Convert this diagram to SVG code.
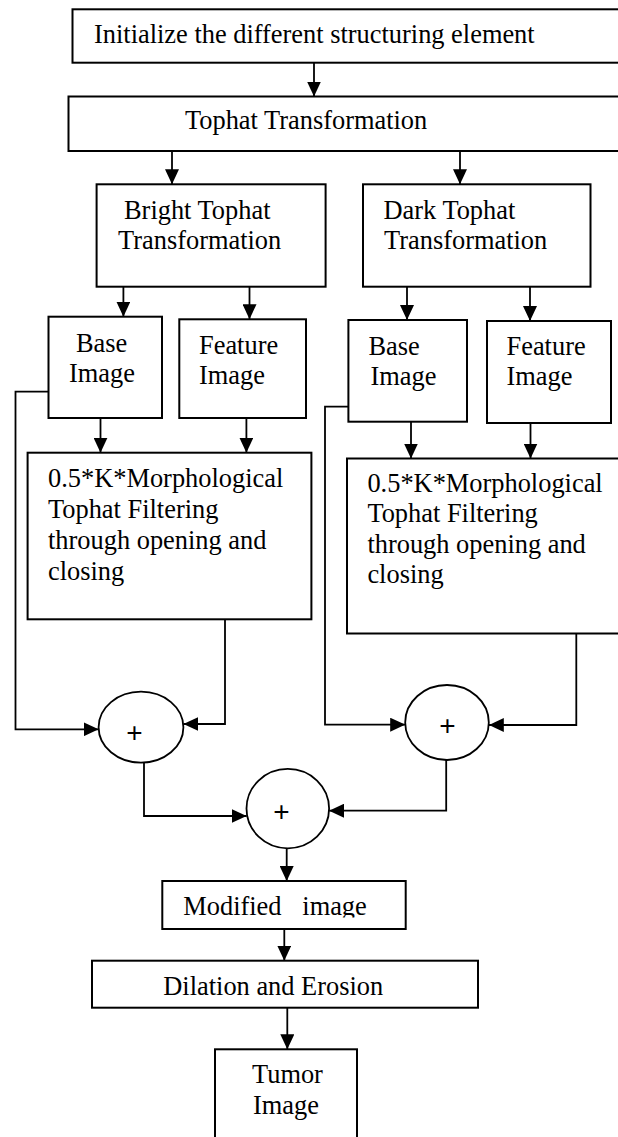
<svg xmlns="http://www.w3.org/2000/svg" width="618" height="1137" viewBox="0 0 618 1137">
  <style>
    .box { fill: #fff; stroke: #000; stroke-width: 2; }
    .sum { fill: #fff; stroke: #000; stroke-width: 1.8; }
    .lbl { font-family: "Liberation Serif", "Times New Roman", serif; font-size: 26.4px; fill: #000; }
    .plus { font-family: "Liberation Sans", Arial, sans-serif; font-size: 28px; fill: #000; text-anchor: middle; }
    .wire { fill: none; stroke: #000; stroke-width: 1.8; }
    .arrow { fill: none; stroke: #000; stroke-width: 1.8; marker-end: url(#head); }
  </style>
  <defs>
    <marker id="head" markerUnits="userSpaceOnUse" markerWidth="15" markerHeight="14" refX="15" refY="7" orient="auto">
      <path d="M0,0 L15,7 L0,14 z" fill="#000"/>
    </marker>
    <clipPath id="modClip">
      <rect x="163" y="882" width="242" height="35.5"/>
    </clipPath>
  </defs>
  <rect width="618" height="1137" fill="#fff"/>

  <!-- connectors -->
  <g id="connectors">
    <path class="arrow" d="M314,63 V96.5"/>
    <path class="arrow" d="M172,151 V184.3"/>
    <path class="arrow" d="M460,151 V184.3"/>
    <path class="arrow" d="M123.4,286.7 V316.7"/>
    <path class="arrow" d="M249.5,286.7 V319.3"/>
    <path class="arrow" d="M407,286.7 V320"/>
    <path class="arrow" d="M530,286.7 V321"/>
    <path class="arrow" d="M100.5,418 V452.7"/>
    <path class="arrow" d="M246.4,418 V452.7"/>
    <path class="arrow" d="M411,421.7 V458.5"/>
    <path class="arrow" d="M530.5,423 V458.5"/>
    <path class="arrow" d="M48.5,391.7 H15.5 V729.3 H98.6"/>
    <path class="arrow" d="M225,619.3 V724 H183.4"/>
    <path class="arrow" d="M348.4,406.7 H325 V724.7 H405.2"/>
    <path class="arrow" d="M576.3,633.5 V725 H488.8"/>
    <path class="arrow" d="M144,762.7 V816 H246.6"/>
    <path class="arrow" d="M446.2,760 V810.7 H329.1"/>
    <path class="arrow" d="M286.7,848.3 V881"/>
    <path class="arrow" d="M284.3,929 V960.7"/>
    <path class="arrow" d="M287.3,1007.7 V1049.3"/>
  </g>

  <g id="init">
    <rect class="box" x="72.5" y="9.3" width="580" height="53.4"/>
    <text class="lbl" x="94" y="43.3">Initialize the different structuring element</text>
  </g>

  <g id="tophat">
    <rect class="box" x="68.5" y="96.5" width="580" height="54.5"/>
    <text class="lbl" x="185" y="128.5">Tophat Transformation</text>
  </g>

  <g id="bright">
    <rect class="box" x="96.6" y="184.3" width="229" height="102.4"/>
    <text class="lbl" x="124" y="219">Bright Tophat</text>
    <text class="lbl" x="118" y="249.3">Transformation</text>
  </g>

  <g id="dark">
    <rect class="box" x="363" y="184.3" width="227.5" height="102.4"/>
    <text class="lbl" x="383.5" y="219">Dark Tophat</text>
    <text class="lbl" x="384" y="249.3">Transformation</text>
  </g>

  <g id="base-bright">
    <rect class="box" x="48.5" y="316.7" width="113.5" height="101.3"/>
    <text class="lbl" x="76" y="351.7">Base</text>
    <text class="lbl" x="69" y="381.7">Image</text>
  </g>

  <g id="feature-bright">
    <rect class="box" x="179.3" y="319.3" width="126.7" height="98.7"/>
    <text class="lbl" x="199" y="354">Feature</text>
    <text class="lbl" x="199" y="383.5">Image</text>
  </g>

  <g id="base-dark">
    <rect class="box" x="348.4" y="320" width="118.6" height="101.7"/>
    <text class="lbl" x="368.5" y="354.5">Base</text>
    <text class="lbl" x="370.5" y="384.5">Image</text>
  </g>

  <g id="feature-dark">
    <rect class="box" x="487" y="321" width="124" height="102"/>
    <text class="lbl" x="506.5" y="355">Feature</text>
    <text class="lbl" x="506.5" y="385">Image</text>
  </g>

  <g id="filter-bright">
    <rect class="box" x="27.6" y="452.7" width="283.8" height="166.6"/>
    <text class="lbl" x="48" y="487.3">0.5*K*Morphological</text>
    <text class="lbl" x="48" y="518.3">Tophat Filtering</text>
    <text class="lbl" x="48" y="548.8">through opening and</text>
    <text class="lbl" x="48" y="579.8">closing</text>
  </g>

  <g id="filter-dark">
    <rect class="box" x="347" y="458.5" width="300" height="175"/>
    <text class="lbl" x="367.4" y="491.7">0.5*K*Morphological</text>
    <text class="lbl" x="367.4" y="522.3">Tophat Filtering</text>
    <text class="lbl" x="367.4" y="552.8">through opening and</text>
    <text class="lbl" x="367.4" y="583.3">closing</text>
  </g>

  <g id="sum-bright">
    <ellipse class="sum" cx="141" cy="727.2" rx="42.4" ry="35.5"/>
    <text class="plus" x="134.5" y="741.5">+</text>
  </g>

  <g id="sum-dark">
    <ellipse class="sum" cx="447" cy="722.5" rx="41.8" ry="37.5"/>
    <text class="plus" x="447.5" y="735">+</text>
  </g>

  <g id="sum-total">
    <ellipse class="sum" cx="287.8" cy="808.6" rx="41.3" ry="39.7"/>
    <text class="plus" x="281.5" y="820.5">+</text>
  </g>

  <g id="modified">
    <rect class="box" x="162.3" y="881" width="243.4" height="48"/>
    <g clip-path="url(#modClip)">
      <text class="lbl" x="183.3" y="915">Modified</text>
      <text class="lbl" x="302.3" y="915">image</text>
    </g>
  </g>

  <g id="morph-ops">
    <rect class="box" x="92" y="960.7" width="386" height="47"/>
    <text class="lbl" x="163.3" y="995">Dilation and Erosion</text>
  </g>

  <g id="tumor">
    <rect class="box" x="215" y="1049.3" width="142" height="110"/>
    <text class="lbl" x="252" y="1083">Tumor</text>
    <text class="lbl" x="253" y="1114">Image</text>
  </g>
</svg>
